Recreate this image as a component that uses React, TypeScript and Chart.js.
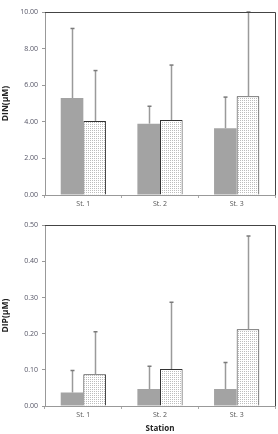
import React, { useEffect, useRef } from "react";
import { Chart, registerables } from "chart.js";

Chart.register(...registerables);

const categories = ["St. 1", "St. 2", "St. 3"];
const dinSeriesA = [5.3, 3.9, 3.65];
const dinSeriesAUpper = [9.1, 4.85, 5.35];
const dinSeriesB = [4.05, 4.1, 5.4];
const dinSeriesBUpper = [6.8, 7.1, 10.0];
const dipSeriesA = [0.037, 0.047, 0.047];
const dipSeriesAUpper = [0.098, 0.11, 0.12];
const dipSeriesB = [0.088, 0.102, 0.212];
const dipSeriesBUpper = [0.205, 0.287, 0.47];

function makePattern(): CanvasPattern | string {
  const c = document.createElement("canvas");
  c.width = 2;
  c.height = 2;
  const ctx = c.getContext("2d");
  if (!ctx) return "#e8e8e8";
  ctx.fillStyle = "#ffffff";
  ctx.fillRect(0, 0, 2, 2);
  ctx.fillStyle = "#bcbcbc";
  ctx.fillRect(0, 0, 1, 1);
  const p = ctx.createPattern(c, "repeat");
  return p || "#e8e8e8";
}

const errorBarPlugin = {
  id: "errbars",
  afterDatasetsDraw(chart: any) {
    const ctx = chart.ctx;
    const ys = chart.scales.y;
    const area = chart.chartArea;
    ctx.save();
    ctx.beginPath();
    ctx.rect(area.left, area.top - 1, area.right - area.left, area.bottom - area.top + 2);
    ctx.clip();
    chart.data.datasets.forEach((ds: any, di: number) => {
      const meta = chart.getDatasetMeta(di);
      meta.data.forEach((el: any, i: number) => {
        const up = ds.upper[i];
        const x = Math.round(el.x) + 0.5;
        const y0 = el.y;
        const y1 = ys.getPixelForValue(up);
        ctx.strokeStyle = "#9a9a9a";
        ctx.lineWidth = 1.5;
        ctx.beginPath();
        ctx.moveTo(x, y0);
        ctx.lineTo(x, y1);
        ctx.stroke();
        ctx.lineWidth = 1.5;
        ctx.strokeStyle = "#7a7a7a";
        ctx.beginPath();
        ctx.moveTo(x - 2, y1);
        ctx.lineTo(x + 2, y1);
        ctx.stroke();
      });
    });
    ctx.restore();
  },
};

const framePlugin = {
  id: "frame",
  afterDraw(chart: any) {
    const ctx = chart.ctx;
    const a = chart.chartArea;
    ctx.save();
    ctx.strokeStyle = "#444444";
    ctx.lineWidth = 1;
    ctx.beginPath();
    ctx.moveTo(Math.round(a.left), Math.round(a.top) + 0.5);
    ctx.lineTo(Math.round(a.right) + 0.5, Math.round(a.top) + 0.5);
    ctx.lineTo(Math.round(a.right) + 0.5, Math.round(a.bottom));
    ctx.stroke();
    ctx.restore();
  },
};

function makeChart(
  canvas: HTMLCanvasElement,
  a: number[],
  aUp: number[],
  b: number[],
  bUp: number[],
  max: number,
  step: number,
  yTitle: string,
  xTitle: string | null,
  top: number,
  xHeight: number
) {
  const tickFont = { family: "'Open Sans', 'Liberation Sans', sans-serif", size: 7 };
  return new Chart(canvas, {
    type: "bar",
    data: {
      labels: categories,
      datasets: [
        {
          data: a,
          upper: aUp,
          backgroundColor: "#a3a3a3",
          borderWidth: 0,
          categoryPercentage: 0.59,
          barPercentage: 1.0,
        } as any,
        {
          data: b,
          upper: bUp,
          backgroundColor: makePattern() as any,
          borderColor: "#333333",
          borderWidth: 1,
          categoryPercentage: 0.59,
          barPercentage: 1.0,
        } as any,
      ],
    },
    options: {
      animation: false,
      responsive: false,
      layout: { padding: { top: top, right: 3, left: 0, bottom: 0 } },
      plugins: { legend: { display: false }, tooltip: { enabled: false } },
      scales: {
        x: {
          grid: {
            display: true,
            drawOnChartArea: false,
            drawTicks: true,
            tickLength: 3,
            color: "#aaaaaa",
            offset: true,
          },
          border: { display: true, color: "#999999", width: 1 },
          ticks: { font: tickFont, color: "#555555", padding: 2 },
          title: xTitle
            ? {
                display: true,
                text: xTitle,
                font: { family: "'Open Sans', 'Liberation Sans', sans-serif", size: 8, weight: "bold" },
                color: "#222222",
                padding: { top: 0, bottom: 0 },
              }
            : { display: false },
          afterFit: (s: any) => {
            s.height = xHeight;
          },
        } as any,
        y: {
          min: 0,
          max: max,
          ticks: {
            stepSize: step,
            font: tickFont,
            color: "#555566",
            padding: 4,
            callback: (v: any) => Number(v).toFixed(2),
          },
          grid: {
            display: true,
            drawOnChartArea: false,
            drawTicks: true,
            tickLength: 3,
            color: "#999999",
          },
          border: { display: true, color: "#999999", width: 1 },
          title: {
            display: true,
            text: yTitle,
            font: { family: "'Open Sans', 'Liberation Sans', sans-serif", size: 8.5, weight: "bold" },
            color: "#222222",
            padding: { top: 0, bottom: 0 },
          },
          afterFit: (s: any) => {
            s.width = 45;
          },
        } as any,
      },
    },
    plugins: [errorBarPlugin, framePlugin],
  } as any);
}

export default function App() {
  const r1 = useRef<HTMLCanvasElement>(null);
  const r2 = useRef<HTMLCanvasElement>(null);
  useEffect(() => {
    if (!r1.current || !r2.current) return;
    const c1 = makeChart(r1.current, dinSeriesA, dinSeriesAUpper, dinSeriesB, dinSeriesBUpper, 10, 2, "DIN(μM)", null, 12, 22);
    const c2 = makeChart(r2.current, dipSeriesA, dipSeriesAUpper, dipSeriesB, dipSeriesBUpper, 0.5, 0.1, "DIP(μM)", "Station", 6, 28);
    return () => {
      c1.destroy();
      c2.destroy();
    };
  }, []);
  return (
    <div style={{ position: "absolute", left: 0, top: 0, width: 278, height: 434, background: "#fff" }}>
      <canvas ref={r1} width={278} height={217} style={{ display: "block", width: 278, height: 217 }} />
      <canvas ref={r2} width={278} height={217} style={{ display: "block", width: 278, height: 217 }} />
    </div>
  );
}
